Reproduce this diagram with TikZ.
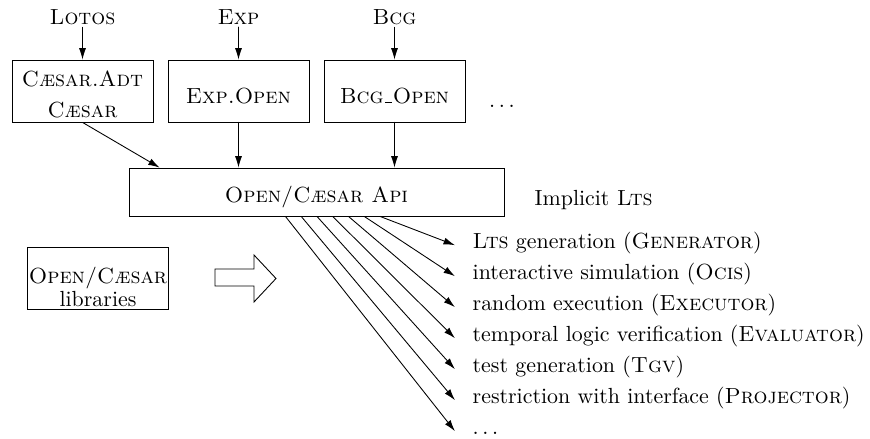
\documentclass[tikz,border=0pt]{standalone}
\usepackage{tikz}
\usetikzlibrary{arrows.meta}
\usetikzlibrary{positioning}
\tikzset{>={Latex[length=5.2pt,width=3.2pt]}}
\newcommand{\uscore}{\kern.06em\vbox{\hrule width.3em height .9pt}\kern.06em}

\begin{document}
\begin{tikzpicture}[x=0.457pt,y=-0.457pt,line cap=round,
  toolbox/.style={draw,inner sep=0pt,minimum width=64.4pt,minimum height=28.3pt},
  boxtext/.style={align=center,yshift=-2.3pt},
  tool/.style={anchor=west,text height=7.5pt,text depth=2.5pt},
  source/.style={inner sep=1pt}]

  \useasboundingbox (0,0) rectangle (870,439);


  \node [source] (lotos) at (82.5,17) {\textsc{Lotos}};
  \node [source] (exp) at (238.5,17) {\textsc{Exp}};
  \node [source] (bcg) at (394.5,17) {\textsc{Bcg}};

  \node [toolbox,label={[boxtext,yshift=0.6pt]center:{\textsc{C\ae sar.Adt}\\[2.2pt]\textsc{C\ae sar}}}] (caesar) at (82.5,91) {};
  \node [toolbox,label={[boxtext]center:\textsc{Exp.Open}}] (expopen) at (238.5,91) {};
  \node [toolbox,label={[boxtext]center:\textsc{Bcg\uscore Open}}] (bcgopen) at (394.5,91) {};
  \node (more) at (502,106) {$\ldots$};

  \node [draw,inner sep=0pt,minimum width=171.4pt,minimum height=21.9pt,
    label={[boxtext]center:\textsc{Open/C\ae sar Api}}] (api) at (316.5,192) {};
  \node [anchor=west] (implicit) at (527,200) {Implicit \textsc{Lts}};

  \draw [->] (lotos) -- (caesar);
  \draw [->] (exp) -- (expopen);
  \draw [->] (bcg) -- (bcgopen);

  \draw [->] (caesar.south) -- ([xshift=14.2pt]api.north west);
  \draw [->] (expopen) -- (api.north -| expopen);
  \draw [->] (bcgopen) -- (api.north -| bcgopen);


  \node [toolbox,label={[boxtext,yshift=-1.8pt]center:{\textsc{Open/C\ae sar}\\[-1.5pt]libraries}}] (libs) at (98,278) {};

  %\draw [help lines] (215,255) rectangle (276,302);
  \draw (215,269) -- (254,269) -- (254,255) -- (276,278.5) -- (254,302) -- (254,286) -- (215,286) -- cycle;


  \foreach \txt [count=\i] in {{\textsc{Lts} generation (\textsc{Generator})},
      {interactive simulation (\textsc{Ocis})},
      {random execution (\textsc{Executor})},
      {temporal logic verification (\textsc{Evaluator})},
      {test generation (\textsc{Tgv})},
      {restriction with interface (\textsc{Projector})},
      {$\ldots$}}
  {
    \node [tool] (t\i) at (465,{243+31*(\i-1)}) {\txt};
    \draw [->] ([xshift={71.7pt+(7-\i)*7.2pt}]api.south west) -- ([xshift=-4.6pt,yshift=-1pt]t\i.west);
  }

\end{tikzpicture}
\end{document}
